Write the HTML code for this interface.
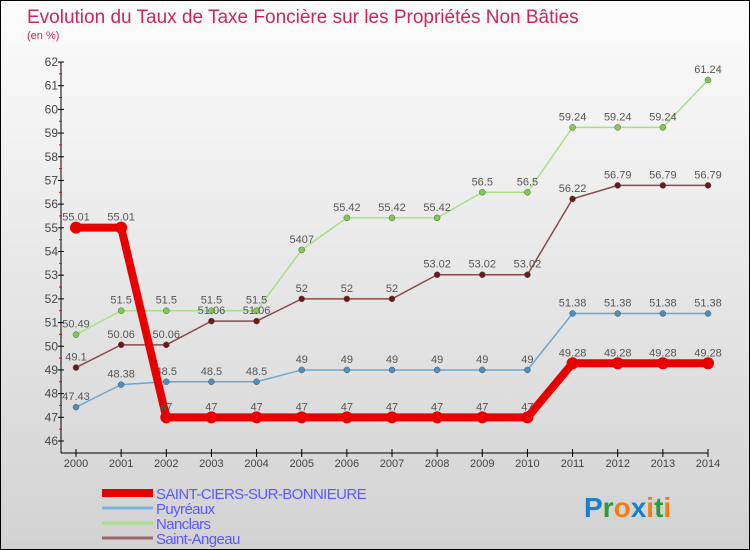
<!DOCTYPE html>
<html><head><meta charset="utf-8"><style>
body{margin:0}
#c{width:750px;height:550px;position:relative;overflow:hidden;box-sizing:border-box;border:1px solid #000;background:linear-gradient(#fcfcfc,#d2d2d2);font-family:"Liberation Sans",sans-serif}
</style></head><body>
<div id="c">
<svg id="s" width="750" height="550" style="position:absolute;left:0;top:0">
<text x="26" y="22" font-size="19" fill="#c8285a">Evolution du Taux de Taxe Foncière sur les Propriétés Non Bâties</text>
<text x="26" y="38" font-size="11" fill="#c8285a">(en %)</text>
<g id="axes"></g><g id="series"></g><g id="legend"></g>
<text x="583" y="516" font-size="28" font-weight="bold"><tspan fill="#1b7fd0">P</tspan><tspan fill="#2a9b3a">r</tspan><tspan fill="#f07d12">o</tspan><tspan fill="#1b7fd0">x</tspan><tspan fill="#f07d12">i</tspan><tspan fill="#2a9b3a">t</tspan><tspan fill="#f07d12">i</tspan></text>
</svg>
</div>
<script>
const years=[2000,2001,2002,2003,2004,2005,2006,2007,2008,2009,2010,2011,2012,2013,2014];
const yTicks=[46,47,48,49,50,51,52,53,54,55,56,57,58,59,60,61,62];
const seriesNames=["SAINT-CIERS-SUR-BONNIEURE","Puyréaux","Nanclars","Saint-Angeau"];
const saintCiers=[55.01,55.01,47,47,47,47,47,47,47,47,47,49.28,49.28,49.28,49.28];
const puyreaux=[47.43,48.38,48.5,48.5,48.5,49,49,49,49,49,49,51.38,51.38,51.38,51.38];
const nanclars=[50.49,51.5,51.5,51.5,51.5,54.07,55.42,55.42,55.42,56.5,56.5,59.24,59.24,59.24,61.24];
const saintAngeau=[49.1,50.06,50.06,51.06,51.06,52,52,52,53.02,53.02,53.02,56.22,56.79,56.79,56.79];
const labelsSC=["55.01","55.01","47","47","47","47","47","47","47","47","47","49.28","49.28","49.28","49.28"];
const labelsP=["47.43","48.38","48.5","48.5","48.5","49","49","49","49","49","49","51.38","51.38","51.38","51.38"];
const labelsN=["50.49","51.5","51.5","51.5","51.5","5407","55.42","55.42","55.42","56.5","56.5","59.24","59.24","59.24","61.24"];
const labelsA=["49.1","50.06","50.06","51.06","51.06","52","52","52","53.02","53.02","53.02","56.22","56.79","56.79","56.79"];
const NS="http://www.w3.org/2000/svg";
const xs=i=>75+i*(707-75)/(years.length-1);
const ys=v=>440-(v-46)*(440-61)/16;
function mk(tag,a,p){const e=document.createElementNS(NS,tag);for(const k in a)e.setAttribute(k,a[k]);p.appendChild(e);return e;}
const ax=document.getElementById('axes');
let yl=mk('line',{x1:60,y1:61,x2:60,y2:452,stroke:'#000'},ax);


let xl=mk('line',{x1:60,y1:452,x2:707,y2:452,stroke:'#000'},ax);


yTicks.forEach(v=>{
 mk('line',{x1:57,y1:ys(v),x2:63,y2:ys(v),stroke:'#000'},ax);
 if(v<62)mk('line',{x1:58,y1:ys(v+0.5),x2:61,y2:ys(v+0.5),stroke:'#e00'},ax);
 const t=mk('text',{x:57,y:ys(v)+4,'font-size':12,fill:'#444','text-anchor':'end'},ax);
 t.textContent=v;
 
 
});
years.forEach((y,i)=>{
 mk('line',{x1:xs(i),y1:448,x2:xs(i),y2:456,stroke:'#000'},ax);
 const t=mk('text',{x:xs(i),y:466,'font-size':11,fill:'#444','text-anchor':'middle'},ax);
 t.textContent=y;
 
 
});
const sg=document.getElementById('series');
const defs=[[puyreaux,labelsP,'#6fa6cf','#4a8fc4',1.5,3],[nanclars,labelsN,'#a8de88','#7fcc4a',1.5,3],[saintAngeau,labelsA,'#8b4a4a','#6b1a1a',1.5,3],[saintCiers,labelsSC,'#e80000','#e80000',8,6]];
const dnames=['puyreaux','nanclars','saint-angeau','saint-ciers'];
defs.forEach((d,k)=>{
 const g=mk('g',{},sg);
 
 
 const pts=d[0].map((v,i)=>xs(i)+','+ys(v)).join(' ');
 const pl=mk('polyline',{points:pts,fill:'none',stroke:d[2],'stroke-width':d[4]},g);
 
 
 d[0].forEach((v,i)=>{
  const c=mk('circle',{cx:xs(i),cy:ys(v),r:d[5],fill:d[3],stroke:k<3?'#555':'none','stroke-width':0.5},g);
  
  
  const t=mk('text',{x:xs(i),y:ys(v)-7,'font-size':11,fill:'#555','text-anchor':'middle'},g);
  t.textContent=d[1][i];
  
  
 });
});
const lg=document.getElementById('legend');
const lc=['#e80000','#7fb4da','#a8de88','#9a6a6a'];const lw=[8,3,3,3];const ly=[492,507,522,537];
seriesNames.forEach((n,i)=>{
 const l=mk('line',{x1:101,y1:ly[i],x2:152,y2:ly[i],stroke:lc[i],'stroke-width':lw[i]},lg);
 
 
 const t=mk('text',{x:155,y:ly[i]+6,'font-size':15,'letter-spacing':'-0.6',fill:'#5a5aff'},lg);
 t.textContent=n;
 
 
});
</script>
</body></html>
